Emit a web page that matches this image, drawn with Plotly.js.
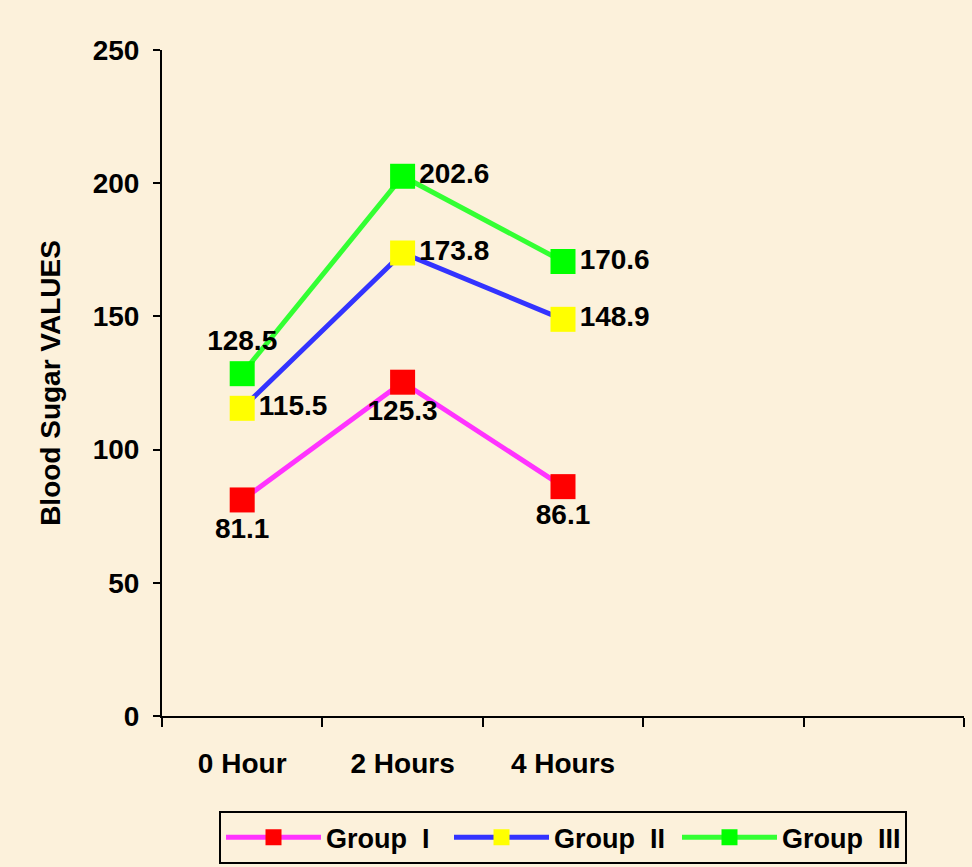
<!DOCTYPE html>
<html>
<head>
<meta charset="utf-8">
<script src="https://cdn.plot.ly/plotly-3.0.1.min.js"></script>
<style>
  html, body { margin: 0; padding: 0; background: #FCF1DB; }
  #chart { width: 972px; height: 867px; }
</style>
</head>
<body>
<div id="chart"></div>
<script>
const categories = ["0 Hour", "2 Hours", "4 Hours"];
const catIndex = [0, 1, 2];
const groupI = [81.1, 125.3, 86.1];
const groupII = [115.5, 173.8, 148.9];
const groupIII = [128.5, 202.6, 170.6];
const seriesNames = ["Group\u00A0\u00A0I", "Group\u00A0\u00A0II", "Group\u00A0\u00A0III"];
const yTicks = [0, 50, 100, 150, 200, 250];

const font = { family: "Liberation Sans, Arial, sans-serif", size: 28, color: "#000000" };
const labelFont = { family: "Liberation Sans, Arial, sans-serif", size: 28, color: "#000000", weight: 700 };

function fmt(arr) { return arr.map(v => "<b>" + v.toFixed(1) + "</b>"); }

const traces = [
  {
    x: catIndex, y: groupI, name: seriesNames[0], mode: "lines+markers+text",
    line: { color: "#FF33FF", width: 5 },
    marker: { symbol: "square", size: 25, color: "#FF0000" },
    text: fmt(groupI), textposition: ["bottom center", "bottom center", "bottom center"],
    textfont: labelFont, cliponaxis: false, hoverinfo: "skip"
  },
  {
    x: catIndex, y: groupII, name: seriesNames[1], mode: "lines+markers+text",
    line: { color: "#3333FF", width: 5 },
    marker: { symbol: "square", size: 25, color: "#FFFF00" },
    text: fmt(groupII), textposition: ["middle right", "middle right", "middle right"],
    textfont: labelFont, cliponaxis: false, hoverinfo: "skip"
  },
  {
    x: catIndex, y: groupIII, name: seriesNames[2], mode: "lines+markers+text",
    line: { color: "#33FF33", width: 5 },
    marker: { symbol: "square", size: 25, color: "#00FF00" },
    text: fmt(groupIII), textposition: ["top center", "middle right", "middle right"],
    textfont: labelFont, cliponaxis: false, hoverinfo: "skip"
  }
];

const layout = {
  width: 972, height: 867,
  margin: { l: 162, r: 8, t: 50, b: 151, autoexpand: false },
  paper_bgcolor: "#FCF1DB",
  plot_bgcolor: "#FCF1DB",
  font: font,
  showlegend: true,
  xaxis: {
    type: "linear",
    range: [-0.5, 4.5],
    tickmode: "array",
    tickvals: catIndex,
    ticktext: categories.map(c => "<b>" + c + "</b>"),
    ticks: "",
    ticklabelstandoff: 21,
    showgrid: false, zeroline: false,
    showline: true, linecolor: "#000000", linewidth: 2,
    tickfont: font,
    minor: { tick0: -0.5, dtick: 1, ticks: "outside", ticklen: 9, tickwidth: 2, tickcolor: "#000000", showgrid: false },
    fixedrange: true
  },
  yaxis: {
    range: [0, 250],
    tickmode: "array",
    tickvals: yTicks,
    ticktext: yTicks.map(v => "<b>" + v + "</b>"),
    ticks: "outside", ticklen: 7, tickwidth: 2, tickcolor: "#000000",
    ticklabelstandoff: 8,
    showgrid: false, zeroline: false,
    showline: true, linecolor: "#000000", linewidth: 2,
    tickfont: font,
    title: { text: "<b>Blood Sugar VALUES</b>", font: font, standoff: 24 },
    fixedrange: true
  },
  legend: {
    orientation: "h",
    x: 0.5, xanchor: "center",
    y: -0.143, yanchor: "top",
    bgcolor: "rgba(0,0,0,0)",
    bordercolor: "#000000", borderwidth: 2,
    font: { family: "Liberation Sans, Arial, sans-serif", size: 27, color: "#000000", weight: 700 },
    itemwidth: 95,
    entrywidth: 118, entrywidthmode: "pixels",
    itemclick: false, itemdoubleclick: false
  }
};

Plotly.newPlot("chart", traces, layout, { displayModeBar: false, staticPlot: true });
</script>
</body>
</html>
